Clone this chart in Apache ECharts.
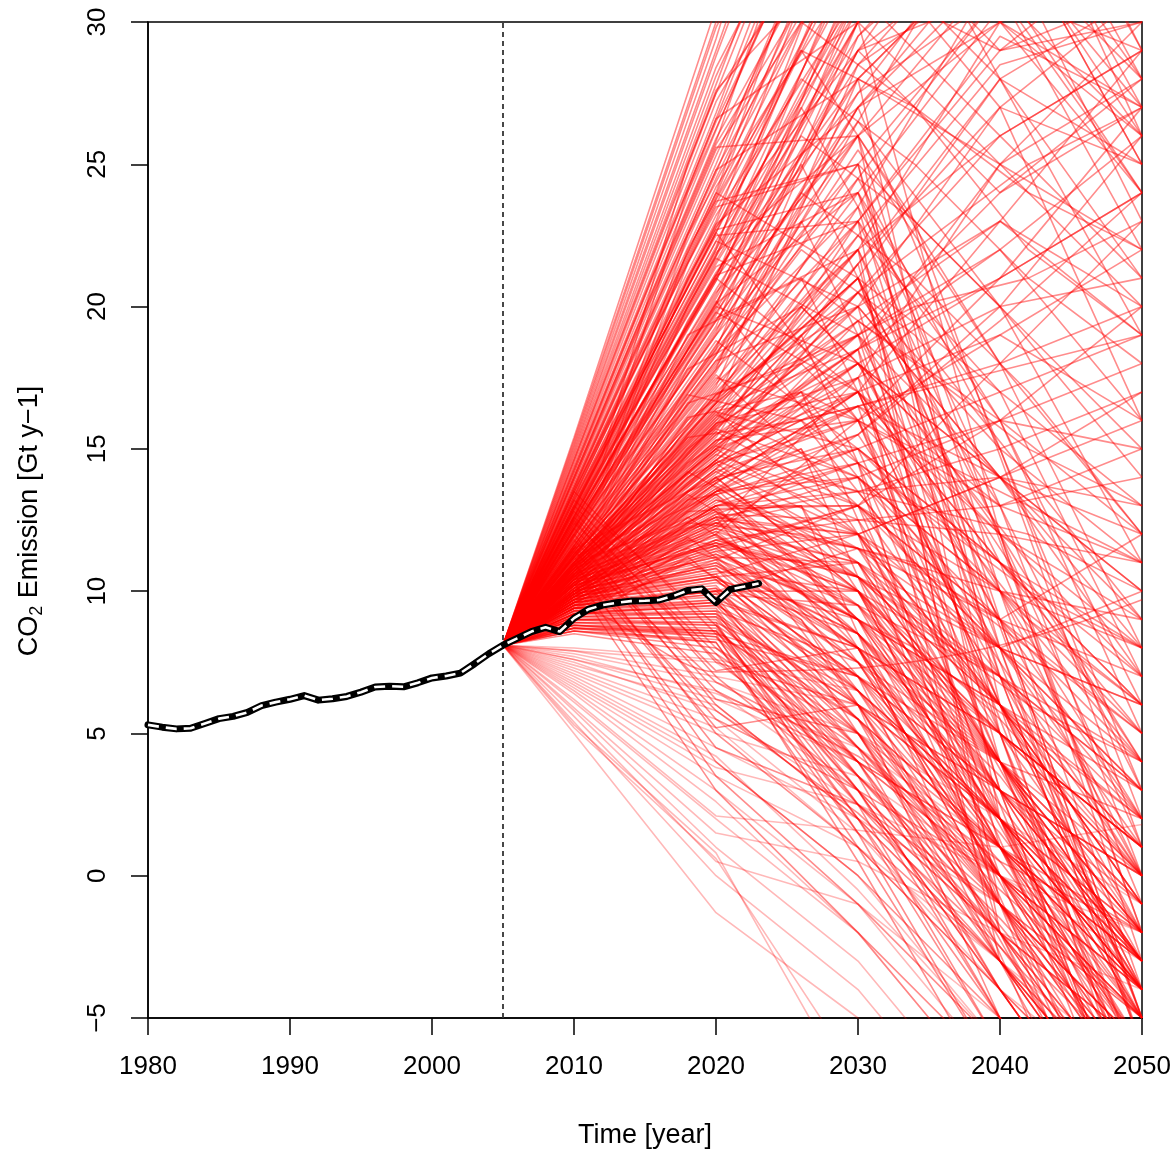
<!DOCTYPE html>
<html><head><meta charset="utf-8">
<script src="https://cdn.jsdelivr.net/npm/echarts@6/dist/echarts.min.js"></script>
<style>html,body{margin:0;padding:0;background:#fff;overflow:hidden}#c{width:1175px;height:1151px}</style>
</head><body><div id="c"></div>
<script>
// Observed emissions (black line)
const obsYears = [1980,1981,1982,1983,1984,1985,1986,1987,1988,1989,1990,1991,1992,1993,1994,1995,1996,1997,1998,1999,2000,2001,2002,2003,2004,2005,2006,2007,2008,2009,2010,2011,2012,2013,2014,2015,2016,2017,2018,2019,2020,2021,2022,2023];
const obsValues = [5.30,5.22,5.16,5.18,5.35,5.52,5.60,5.74,5.98,6.10,6.20,6.33,6.17,6.22,6.30,6.45,6.63,6.66,6.64,6.78,6.95,7.02,7.12,7.45,7.80,8.10,8.34,8.58,8.73,8.58,9.05,9.36,9.51,9.59,9.65,9.66,9.69,9.83,10.02,10.08,9.60,10.06,10.16,10.27];

// Scenario projections, values at 2010, 2020, 2030, 2040, 2050 (all start at 2005)
const scenStartYear = 2005;
const scenStart = 8.1;
const scenYears = [2010,2020,2030,2040,2050];
const scenHigh = [
[15.4,30.5,44,55,60],[15.2,29.8,40,36,27],[15.0,29.0,43,52,58],[14.8,28.4,38,31,22],
[14.6,27.8,41,48,36],[14.4,27.2,36,42,47],[14.2,26.5,37,28,19],[14.0,25.9,35,40,44],
[13.9,25.5,33,37,26],[13.7,24.8,34,29,30],[13.5,24.2,32,38,42],[13.4,23.9,36,33,23],
[13.2,23.2,31,35,28],[13.1,22.9,33,27,16],[12.9,22.3,30.5,36,41],[12.8,22.0,31,26,29],
[12.6,21.5,29.5,34,38],[12.5,21.1,30,25,20],[12.3,20.6,28.5,32,35],[12.2,20.3,29,24,27],
[15.1,29.4,46,40,33],[14.7,28.1,39,45,50],[14.1,26.2,38,34,25],[13.6,24.5,35,30,24],
[13.0,22.6,32,39,45],[12.7,21.8,31.5,29,31],[12.4,21.0,27.5,31,34],[12.0,19.9,28,33,37],
[11.9,19.5,27,30,26],[11.8,19.2,26,30,32]
];
const scenHigh2 = [
[15.3,30.0,38,33,30],[14.9,28.8,42,39,29],[14.5,27.5,35,44,53],[14.3,26.8,40,31,26],
[13.8,25.3,36,46,51],[13.3,23.6,33,28,21],[12.9,22.1,34,43,49],[12.5,20.9,31,37,33],
[12.1,19.7,29,36,43],[11.9,19.0,27.5,34,31],[11.6,18.3,26,32,38],[11.4,17.9,25,31,29],
[11.2,17.4,24,30.5,35],[11.0,16.9,23,29.5,27],[10.8,16.4,22,30,33],[10.6,15.9,21,28,31],
[13.6,24.7,37,44,40],[14.0,25.7,34,39,35],[12.6,21.6,30,38,29],[12.2,20.4,30.5,35,32],
[11.7,18.6,27,33,28],[11.3,17.7,26.5,35,39],[10.9,16.7,24.5,31,36],[10.7,16.1,23.5,32,34],
[10.5,15.6,22.5,28.5,30],[10.4,15.2,21.5,27,25],[10.3,14.9,20.5,26,29],[14.6,27.6,33,30,27],
[13.1,22.8,29,31,24],[12.4,21.2,28,25,28]
];
const scenHigh3 = [
[13.5,24.0,38,48,55],[13.2,23.0,36,45,50],[12.8,22.0,35,42,47],[12.5,21.0,33,40,44],
[12.2,20.0,32,38,42],[11.9,19.3,31,37,41],[11.6,18.5,30,36,40],[11.4,17.8,29.5,35,38],
[11.2,17.2,28.5,34,36],[11.0,16.6,28,33,35],[14.3,26.6,39,46,52],[14.0,25.8,40,50,58],
[13.7,25.0,37,43,39],[13.3,23.8,34,41,35],[12.9,22.6,33.5,39,31],[12.6,21.8,32.5,37,28],
[12.3,20.9,31.5,36,30],[12.0,20.1,30,34,25],[11.7,19.1,29,33,27],[11.5,18.3,27,32,33]
];
const scenPeak = [
[12.5,20.5,26,10,-4],[12.0,19.0,25,5,-8],[11.8,18.5,24.5,15,2],[11.5,17.8,23,-2,-12],
[11.3,17.0,22,12,4],[11.0,16.5,21,8,-6],[10.8,16.0,20,3,-10],[10.6,15.5,19,14,9],
[10.5,15.0,18.5,6,-3],[10.3,14.6,18,10,0],[10.2,14.3,17.5,1,-9],[10.0,13.8,17,11,6],
[11.6,18.0,25.5,18,12],[12.2,19.8,26.5,20,14],[11.1,16.8,22.5,17,7],[10.9,16.2,21.5,4,-7],
[10.7,15.8,20.5,13,3],[12.8,21.4,24,16,5],[13.2,22.5,23,12,1],[13.5,23.5,25,8,-5],
[11.4,17.5,16,7,-2],[12.3,20.0,18,9,0],[13.0,22.3,20,14,10],[11.7,18.8,15,4,-8],
[12.6,21.0,17,11,5]
];
const scenPeak2 = [
[14.2,26.6,30,12,-2],[13.6,24.8,28,6,-9],[13.0,22.9,27,15,3],[12.7,21.9,26,2,-10],
[12.1,20.1,24,9,-5],[11.6,18.4,23.5,7,-6],[11.2,17.3,22,-1,-13],[10.9,16.6,21,11,-1],
[10.6,15.7,19.5,5,-7],[10.4,15.1,18.5,-3,-12],[10.2,14.5,17,6,-4],[10.0,14.0,16.5,2,-8],
[9.9,13.5,15.5,8,1],[9.8,13.0,14.5,-2,-11],[13.9,25.6,26,18,8],[13.3,23.7,25,20,11],
[12.9,22.7,24,13,0],[12.4,21.1,23,16,6],[11.9,19.6,22,10,2],[11.5,18.1,20,14,7],
[11.0,16.9,19,12,-3],[10.7,15.9,17.5,9,-5],[10.5,15.3,16,5,-9],[12.0,19.8,17,6,-4],
[12.6,21.7,19,3,-10],[13.4,24.0,21,7,-6],[11.3,17.6,13,2,-7],[10.8,16.3,12,-1,-9],
[12.2,20.2,14,0,-12],[13.0,22.6,16,4,-5]
];
const scenMid = [
[11.2,15.8,19,24,28],[11.0,15.2,20,27,31],[10.8,14.8,18,21,24],[10.6,14.2,16,19,22],
[10.4,13.8,17,23,29],[10.2,13.4,15,17,19],[10.0,13.0,14,16,18],[9.9,12.6,13.5,15,17],
[9.8,12.2,15.5,20,26],[9.7,11.8,12.5,13,14],[9.6,11.5,13,18,23],[11.3,16.2,14,10,6],
[11.1,15.6,13,8,2],[10.9,15.0,12,6,-1],[10.7,14.5,11,4,-3],[10.5,14.0,10,3,-5],
[10.3,13.6,9,2,-6],[10.1,13.2,11.5,9,7],[9.9,12.8,10.5,7,3],[9.8,12.4,9.5,5,1],
[9.7,12.0,8.5,4,-2],[9.6,11.6,8,2,-4],[11.4,16.6,21,17,13],[11.2,16.0,22,26,21],
[10.8,15.0,20.5,15,11],[10.6,14.6,19,22,16],[10.4,14.1,18,14,8],[10.2,13.6,16.5,12,9],
[10.0,13.1,15,10,4],[9.9,12.7,14.5,11,8],[9.8,12.3,17.5,25,30],[9.7,12.0,16,21,27],
[11.0,15.4,23,29,33],[10.7,14.7,21.5,28,25],[10.5,14.3,19.5,23,19],[10.3,13.9,18.5,25,22],
[10.1,13.5,17,13,15],[10.0,13.2,12,14,16],[9.9,12.9,13,9,12],[9.8,12.5,14,8,10]
];
const scenMid2 = [
[11.0,15.3,18.5,22,26],[10.9,14.9,17.5,20,21],[10.7,14.4,16.5,18,20],[10.5,13.9,15.5,19.5,24],
[10.3,13.5,14.5,16,15],[10.1,13.0,13.5,14,13],[10.0,12.7,12.5,12,11],[9.9,12.4,11.5,10,9],
[9.8,12.1,10.5,8,6],[9.7,11.7,10,7,4],[9.6,11.3,9,5,0],[9.5,11.0,8.5,3,-3],
[11.3,16.3,15,11,7],[11.1,15.7,14,9,4],[10.9,15.1,13.5,7,0],[10.7,14.6,12.5,5,-2],
[10.5,14.2,11.5,4,-4],[10.3,13.7,10.5,3,-5],[10.1,13.3,9.5,1,-7],[10.0,12.9,8.5,0,-8],
[11.2,16.1,19.5,16,12],[11.0,15.5,18,14,10],[10.8,15.0,17,12,8],[10.6,14.5,16,13,11],
[10.4,14.0,15,11,6],[10.2,13.5,14,10,5],[10.0,13.0,13,9,2],[9.9,12.6,12,6,-1],
[9.7,12.2,11,4,-3],[9.6,11.8,10.5,6,1],[9.5,11.4,12,14,17],[9.4,11.1,13,16,20],
[11.5,16.9,20,23,20],[11.3,16.4,18.5,21,24],[11.1,15.9,17,19,16],[10.9,15.3,16.5,14,12],
[10.6,14.8,13,10,8],[10.4,14.3,12,8,3],[10.2,13.8,11,6,1],[10.0,13.4,10,4,-2]
];
const scenDown = [
[10.4,12.0,9,3,-3],[10.2,11.5,8,1,-6],[10.0,11.0,7.5,0,-8],[9.9,10.8,6,-2,-9],
[9.8,10.5,7,1,-5],[9.7,10.2,5,-3,-10],[9.6,10.0,6.5,2,-2],[9.5,9.8,4,-4,-11],
[9.4,9.6,5.5,0,-6],[9.3,9.4,3,-5,-12],[9.2,9.2,6,3,0],[9.1,9.0,4.5,-1,-7],
[9.0,8.8,2,-6,-14],[8.9,8.6,5,1,-4],[8.8,8.4,3.5,-2,-8],[8.7,8.2,1,-7,-15],
[8.6,8.0,4,0,-5],[8.5,7.8,2.5,-3,-9],[10.3,11.8,10,5,0],[10.1,11.3,9.5,4,-1],
[9.9,10.9,8.5,2.5,-4],[9.7,10.4,9,6,2],[9.5,10.1,7,3,-1],[9.3,9.7,8,5,1],
[9.1,9.3,7.5,4,-3],[8.9,8.9,6.5,1.5,-5],[8.7,8.5,5.5,-1,-6],[8.6,8.3,7,4,2],
[10.5,12.3,11,7,2],[10.2,11.7,10.5,6,-2],[10.0,11.2,11,8,4],[9.8,10.7,10,5.5,0],
[9.6,10.3,8.5,3.5,-3],[9.4,9.9,9.5,7,3],[9.2,9.5,7,2,-4],[9.0,9.1,6,0.5,-6],
[8.8,8.7,4,-2.5,-9],[8.7,8.6,3,-4,-11],[9.9,10.6,12,9,5],[9.5,10.0,11.5,8,6],
[10.3,11.6,13,6,-1],[10.6,12.5,12,4,-4],[9.7,10.5,11,2,-7],[9.4,10.0,10,1,-8],
[9.2,9.6,8,-1,-10],[11.0,12.8,7,-3,-9],[10.8,12.6,6,-5,-12],[10.9,13.0,8,-1,-5],
[11.2,13.4,9,0,-4],[11.5,14.0,10,1,-3]
];
const scenDown2 = [
[10.4,12.1,8.5,2,-4],[10.2,11.6,7.5,0,-7],[10.0,11.1,6.5,-1,-8],[9.8,10.6,5.5,-3,-10],
[9.6,10.1,4.5,-4,-11],[9.4,9.7,3.5,-5,-12],[9.2,9.3,2.5,-6,-13],[9.0,8.9,1.5,-7,-14],
[8.8,8.5,0.5,-8,-15],[10.5,12.4,10.5,4,-2],[10.3,11.9,9.5,3,-3],[10.1,11.4,9,2,-5],
[9.9,10.9,8,1,-6],[9.7,10.5,7,0,-7],[9.5,10.0,6,-1,-8],[9.3,9.6,5,-2,-9],
[9.1,9.2,4,-3,-10],[8.9,8.8,3,-4,-11],[8.7,8.4,2,-5,-12],[10.6,12.6,11.5,6,0],
[10.4,12.2,10,5,1],[10.2,11.7,9,6,3],[10.0,11.2,8,4,0],[9.8,10.8,7.5,3,-2],
[9.6,10.4,6.5,2,-3],[9.4,9.9,5.5,1,-4],[9.2,9.5,4.5,0,-5],[9.0,9.1,3.5,-1,-6],
[8.8,8.6,2.5,-2,-8],[8.6,8.2,1.5,-3,-9]
];
// rise to 2010, then fall below the observed line by 2020
const scenDrop = [
[12.5,7.0,3,-2,-6],[12.0,6.0,2,-3,-8],[11.5,5.0,1,-4,-9],[11.0,4.0,0,-5,-10],
[13.0,8.0,5,0,-4],[12.8,7.5,6,2,-2],[11.8,6.5,4,1,-3],[11.2,5.5,3,0,-5],
[10.8,4.5,2.5,-1,-6],[13.5,8.5,7,3,0],[12.2,7.2,8,5,1],[11.6,6.2,5,-1,-7],
[11.0,5.2,6,2,-4],[10.6,3.5,-1,-6,-12],[10.3,3.0,-2,-7,-13],[12.6,7.8,4.5,-0.5,-5],
[13.2,8.8,5.5,1,-3],[12.4,7.6,3.5,-1.5,-7],[11.4,6.8,4.2,0.5,-2],[10.9,5.8,2.2,-2.5,-8]
];
const scenLow = [
[7.9,7.5,4,0,-4],[7.6,6.5,3,-2,-6],[7.4,6.0,2,-3,-8],[7.3,5.5,1.5,-4,-9],
[7.1,5.0,3.5,0,-2],[7.0,4.5,2,-1,-5],[6.8,4.0,0,-6,-12],[6.6,3.5,1,-3,-7],
[6.5,3.0,-1,-7,-13],[6.2,2.1,1.6,1.0,1.8],[6.1,2.0,-2,-8,-14],[5.9,1.5,0.5,-2,-4],
[5.8,1.0,-3,-9,-15],[5.6,0.5,-1,-5,-9],[5.4,0.0,-4,-10,-16],[5.0,-1.3,-5,-11,-17],
[5.3,0.8,-8,-14,-20],[5.2,0.6,-7,-13,-19],[7.8,6.8,5,2,-1],[7.9,7.0,6,3,0],
[8.0,7.6,6.5,2,-3],[7.7,6.4,4.5,1,-2],[7.5,5.8,2.5,-2,-6],[7.2,5.2,1,-4,-8],
[6.9,4.2,-0.5,-6,-11],[6.7,3.8,2.5,0,-3],[6.4,2.6,-2,-8,-14],[7.6,6.2,4,1,-2]
];
// scenarios reported on an offset year grid: 2012, 2018, 2026, 2034, 2042, 2050
const altYears = [2012,2018,2026,2034,2042,2050];
const scenAlt = [
[11.5,15.5,20,16,10,4],[11.0,14.5,17,12,6,0],[10.6,13.5,15,9,2,-4],[10.2,12.8,13,7,0,-6],
[9.8,11.8,11,5,-2,-8],[9.5,11.0,9,3,-4,-10],[12.0,16.8,22,19,14,9],[12.5,18.0,24,21,17,12],
[13.0,19.5,26,23,19,15],[13.5,21.0,28,25,21,18],[14.0,22.5,30,27,24,22],[11.8,16.0,19,22,25,27],
[11.3,15.0,18,20,21,23],[10.8,14.0,16,17,18,19],[10.4,13.2,14,13,12,10],[10.0,12.4,12,11,8,5],
[9.6,11.5,10,8,5,2],[12.2,17.2,23,15,5,-5],[12.7,18.5,25,17,6,-6],[13.2,20.0,27,20,9,-2],
[13.7,21.5,29,23,12,1],[11.6,15.8,21,13,3,-7],[11.1,14.8,19,10,0,-10],[10.7,13.8,17,8,-1,-11],
[10.3,13.0,15,6,-3,-12],[9.9,12.2,13,4,-5,-14],[12.9,19.0,21,18,15,13],[12.4,17.8,20,16,11,7],
[11.9,16.6,18,14,9,6],[11.4,15.4,16,11,7,3],[14.5,24.0,33,36,32,26],[14.8,25.0,35,38,30,24],
[13.8,22.0,29,27,22,19],[10.9,14.2,12,9,6,4],[10.5,13.4,11,7,3,-1],[10.1,12.6,10,5,1,-3],
[9.7,11.9,9,4,0,-4],[9.4,11.2,8,2,-3,-7],[12.1,16.9,16,13,10,8],[11.7,16.1,17,15,13,11]
];
// one smoothly drifting scenario
const curveYears = [2005,2010,2020,2025,2030,2035,2040,2045,2050];
const curveValues = [8.1,9.4,7.16,7.2,7.3,7.6,8.1,8.8,9.7];

const FONT = "'Liberation Sans', Arial, Helvetica, sans-serif";
const RED = 'rgba(255,0,0,0.45)';
const RED_FAINT = 'rgba(255,0,0,0.28)';
const RW = 1.6;

const series = [];
function addLine(years, vals, color) {
  const data = [[scenStartYear, scenStart]];
  years.forEach((y, i) => data.push([y, vals[i]]));
  series.push({type:'line', data, symbol:'none', silent:true, clip:true,
    lineStyle:{color, width:RW}, z:2});
}
[scenHigh, scenHigh2, scenHigh3, scenPeak, scenPeak2, scenMid, scenMid2, scenDown, scenDown2, scenDrop]
  .forEach(g => g.forEach(v => addLine(scenYears, v, RED)));
scenAlt.forEach(v => addLine(altYears, v, RED));
scenLow.forEach(v => addLine(scenYears, v, RED_FAINT));
series.push({type:'line', data: curveYears.map((y,i)=>[y, curveValues[i]]), symbol:'none',
  smooth:0.3, silent:true, clip:true, lineStyle:{color:RED, width:RW}, z:2});

// vertical dashed line at 2005
series.push({type:'line', data:[[2005,-5],[2005,30]], symbol:'none', silent:true,
  lineStyle:{color:'#333', width:1.8, type:[5,4]}, z:3});

const obsData = obsYears.map((y,i)=>[y, obsValues[i]]);
series.push({type:'line', data:obsData, symbol:'none', silent:true,
  lineStyle:{color:'#000', width:7, join:'round', cap:'round'}, z:5});
series.push({type:'line', data:obsData, symbol:'none', silent:true,
  lineStyle:{color:'#fff', width:2.6, type:[11,7]}, z:6});

const chart = echarts.init(document.getElementById('c'), null, {renderer:'canvas'});

// measure text for y-axis title with subscript
const ctx = document.createElement('canvas').getContext('2d');
function tw(t, s){ ctx.font = s + 'px ' + FONT; return ctx.measureText(t).width; }
const TS = 27, SS = 18;
const wCO = tw('CO', TS), w2 = tw('2', SS), wRest = tw(' Emission [Gt y\u22121]', TS);
const W = wCO + w2 + wRest;

chart.setOption({
  animation:false,
  backgroundColor:'#fff',
  grid:{left:148, right:33, top:22, bottom:133, outerBoundsMode:'none', containLabel:false,
    show:true, borderColor:'#000', borderWidth:1.5, backgroundColor:'transparent'},
  xAxis:{type:'value', min:1980, max:2050, interval:10,
    axisLine:{show:true, onZero:false, lineStyle:{color:'#000', width:1.5}},
    axisTick:{show:true, inside:false, length:17, lineStyle:{color:'#000', width:1.5}},
    splitLine:{show:false},
    axisLabel:{fontSize:26, color:'#000', fontFamily:FONT, margin:36, formatter:v=>String(v)},
    name:'Time [year]', nameLocation:'middle', nameGap:104,
    nameTextStyle:{fontSize:27, color:'#000', fontFamily:FONT}
  },
  yAxis:{type:'value', min:-5, max:30, interval:5,
    axisLine:{show:true, onZero:false, lineStyle:{color:'#000', width:1.5}},
    axisTick:{show:true, inside:false, length:17, lineStyle:{color:'#000', width:1.5}},
    splitLine:{show:false},
    axisLabel:{fontSize:26, color:'#000', fontFamily:FONT, rotate:90, margin:37,
      formatter:v=> v < 0 ? '\u2212' + Math.abs(v) : String(v)}
  },
  graphic:[{
    type:'group', x:30, y:521, rotation:Math.PI/2, silent:true,
    children:[
      {type:'text', x:-W/2, y:0, style:{text:'CO', font: TS+'px '+FONT, fill:'#000', textAlign:'left', textVerticalAlign:'middle'}},
      {type:'text', x:-W/2+wCO, y:7, style:{text:'2', font: SS+'px '+FONT, fill:'#000', textAlign:'left', textVerticalAlign:'middle'}},
      {type:'text', x:-W/2+wCO+w2, y:0, style:{text:' Emission [Gt y\u22121]', font: TS+'px '+FONT, fill:'#000', textAlign:'left', textVerticalAlign:'middle'}}
    ]
  }],
  series
});
</script></body></html>
